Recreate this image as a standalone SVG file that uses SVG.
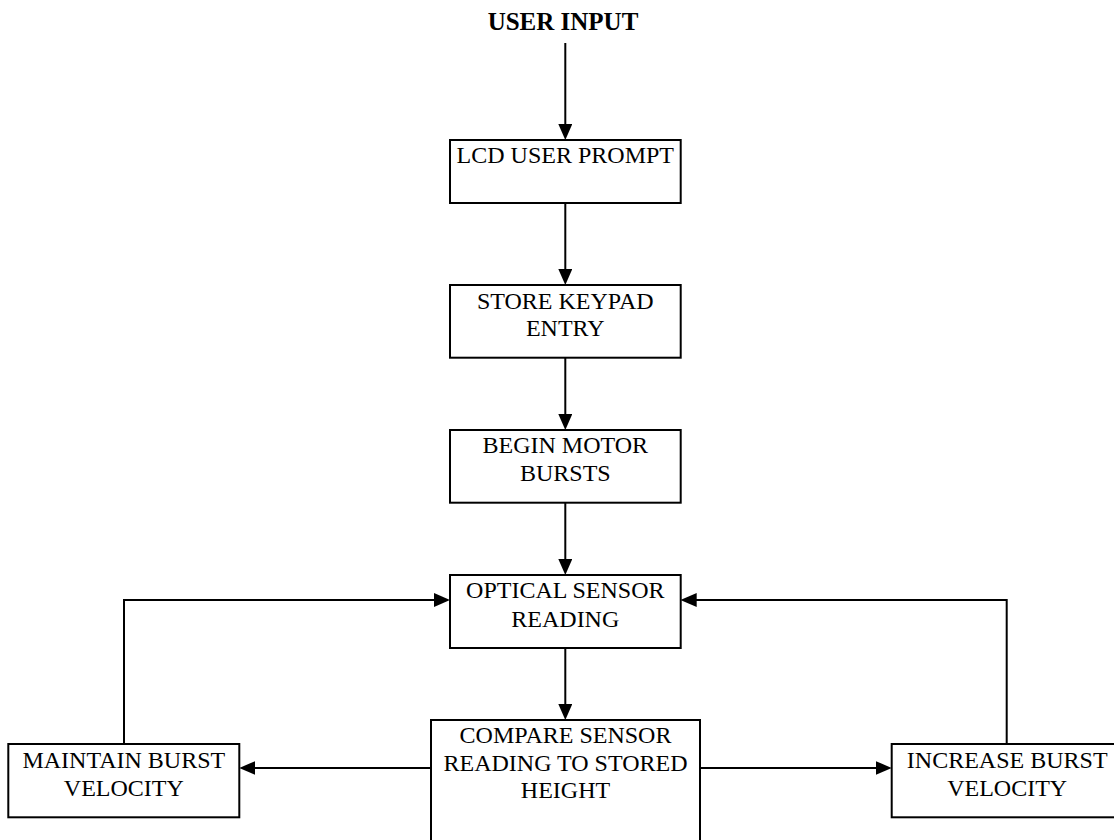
<svg xmlns="http://www.w3.org/2000/svg" width="1114" height="840" viewBox="0 0 1114 840">
<style>
.box{fill:#fff;stroke:#000;stroke-width:2}
.t{font-family:"Liberation Serif","Times New Roman",serif;font-size:24px;fill:#000;text-anchor:middle}
.title{font-family:"Liberation Serif","Times New Roman",serif;font-size:25px;font-weight:bold;fill:#000;text-anchor:middle}
.c{fill:none;stroke:#000;stroke-width:2}
</style>
<defs>
<marker id="ah" markerUnits="userSpaceOnUse" markerWidth="16" markerHeight="14" refX="10" refY="7" orient="auto">
<path d="M0,0 L16,7 L0,14 z" fill="#000"/>
</marker>
</defs>
<rect width="1114" height="840" fill="#fff"/>
<g id="connectors">
<path class="c" d="M565.3,43 V134" marker-end="url(#ah)"/>
<path class="c" d="M565.3,203 V279" marker-end="url(#ah)"/>
<path class="c" d="M565.3,357.7 V424" marker-end="url(#ah)"/>
<path class="c" d="M565.3,502.7 V569" marker-end="url(#ah)"/>
<path class="c" d="M565.3,648 V714" marker-end="url(#ah)"/>
<path class="c" d="M124,744 V600 H444" marker-end="url(#ah)"/>
<path class="c" d="M1006.7,744 V600 H686.7" marker-end="url(#ah)"/>
<path class="c" d="M431,768 H245.3" marker-end="url(#ah)"/>
<path class="c" d="M700,768 H885.7" marker-end="url(#ah)"/>
</g>
<g id="user-input">
<text class="title" x="563" y="29.5">USER INPUT</text>
</g>
<g id="lcd-prompt">
<rect class="box" x="450" y="140" width="230.7" height="63"/>
<text class="t" x="565.3" y="163">LCD USER PROMPT</text>
</g>
<g id="store-keypad">
<rect class="box" x="450" y="285" width="230.7" height="72.7"/>
<text class="t" x="565.3" y="309">STORE KEYPAD</text>
<text class="t" x="565.3" y="336">ENTRY</text>
</g>
<g id="begin-motor">
<rect class="box" x="450" y="430" width="230.7" height="72.7"/>
<text class="t" x="565.3" y="453">BEGIN MOTOR</text>
<text class="t" x="565.3" y="481">BURSTS</text>
</g>
<g id="optical-sensor">
<rect class="box" x="450" y="575" width="230.7" height="73"/>
<text class="t" x="565.3" y="598">OPTICAL SENSOR</text>
<text class="t" x="565.3" y="626.5">READING</text>
</g>
<g id="compare">
<rect class="box" x="431" y="720" width="269" height="130"/>
<text class="t" x="565.5" y="743">COMPARE SENSOR</text>
<text class="t" x="565.5" y="770.5">READING TO STORED</text>
<text class="t" x="565.5" y="798">HEIGHT</text>
</g>
<g id="maintain">
<rect class="box" x="8.3" y="744" width="231" height="73.3"/>
<text class="t" x="123.8" y="768">MAINTAIN BURST</text>
<text class="t" x="123.8" y="795.5">VELOCITY</text>
</g>
<g id="increase">
<rect class="box" x="891.7" y="744" width="231" height="73.3"/>
<text class="t" x="1007.2" y="768">INCREASE BURST</text>
<text class="t" x="1007.2" y="795.5">VELOCITY</text>
</g>
</svg>
